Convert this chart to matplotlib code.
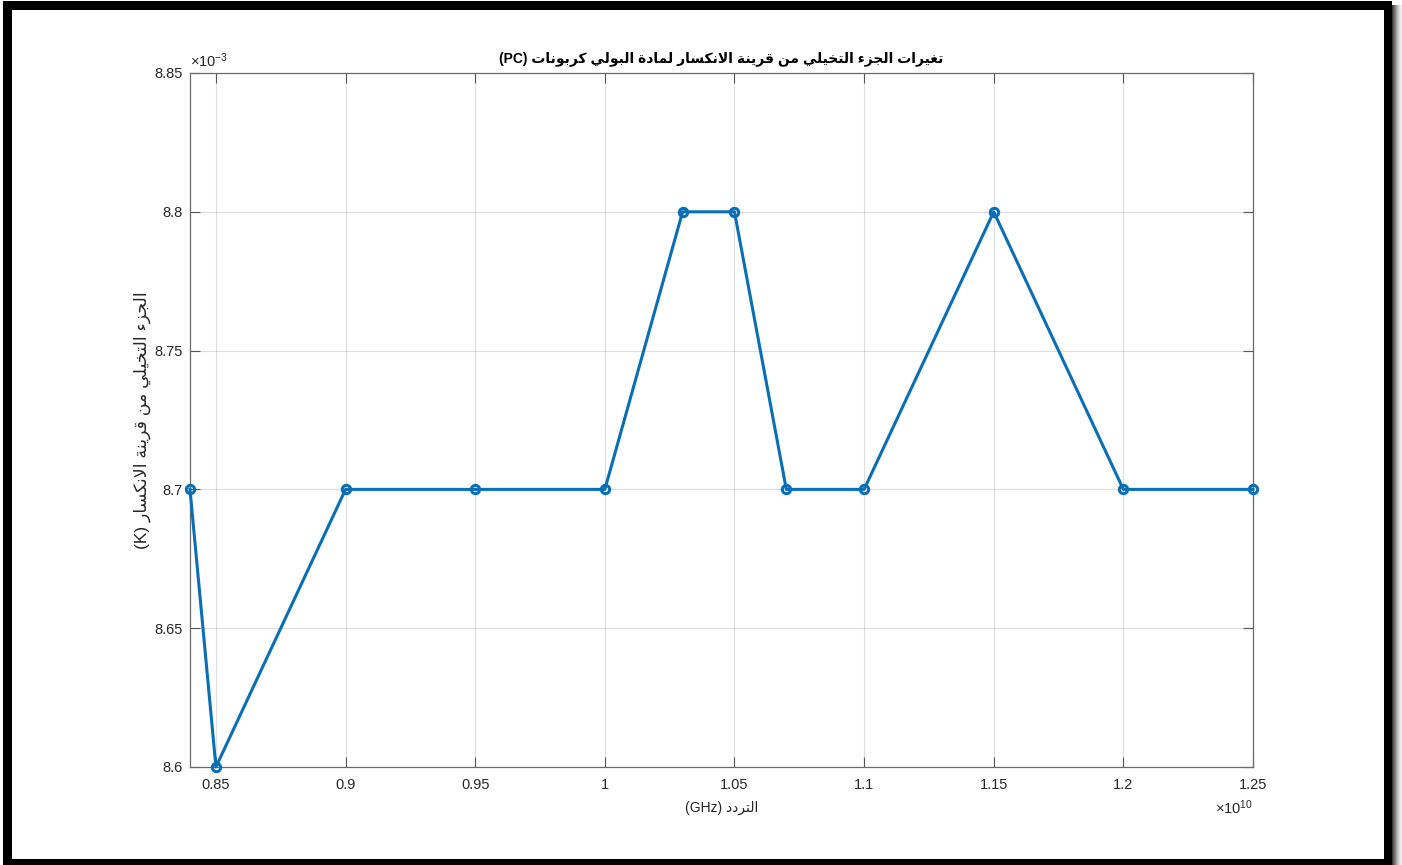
import unicodedata
import matplotlib
matplotlib.use("Agg")
import matplotlib.pyplot as plt
from matplotlib.patches import Rectangle

# ---- data (frequency in units of 1e10 Hz, K in units of 1e-3) ----
freq = [0.84, 0.85, 0.90, 0.95, 1.00, 1.03, 1.05, 1.07, 1.10, 1.15, 1.20, 1.25]
k_imag = [8.7, 8.6, 8.7, 8.7, 8.7, 8.8, 8.8, 8.7, 8.7, 8.8, 8.7, 8.7]
x_ticks = [0.85, 0.90, 0.95, 1.00, 1.05, 1.10, 1.15, 1.20, 1.25]
x_tick_labels = ["0.85", "0.9", "0.95", "1", "1.05", "1.1", "1.15", "1.2", "1.25"]
y_ticks = [8.60, 8.65, 8.70, 8.75, 8.80, 8.85]
y_tick_labels = ["8.6", "8.65", "8.7", "8.75", "8.8", "8.85"]

title_text = "تغيرات الجزء التخيلي من قرينة الانكسار لمادة البولي كربونات (PC)"
xlabel_text = "التردد (GHz)"
ylabel_text = "الجزء التخيلي من قرينة الانكسار (K)"

# ---- minimal Arabic shaping + right-to-left ordering ----
RIGHT_JOIN = set("اأإآدذرزوؤةى")
NON_JOIN = set("ء")


def is_arabic(ch):
    return "\u0600" <= ch <= "\u06FF"


def form_of(ch, form):
    try:
        return unicodedata.lookup(unicodedata.name(ch) + " " + form)
    except (KeyError, ValueError):
        return ch


def shape_word(word):
    toks = []
    i = 0
    while i < len(word):
        if word[i] == "ل" and i + 1 < len(word) and word[i + 1] == "ا":
            toks.append("LA")
            i += 2
        else:
            toks.append(word[i])
            i += 1

    def joins_forward(t):
        return t != "LA" and t not in RIGHT_JOIN and t not in NON_JOIN and is_arabic(t)

    def joins_back(t):
        return t == "LA" or (t not in NON_JOIN and is_arabic(t))

    out = []
    for n, t in enumerate(toks):
        prev_ok = n > 0 and joins_forward(toks[n - 1]) and joins_back(t)
        next_ok = n + 1 < len(toks) and joins_forward(t) and joins_back(toks[n + 1])
        if t == "LA":
            out.append("\uFEFC" if prev_ok else "\uFEFB")
            continue
        if not is_arabic(t):
            out.append(t)
            continue
        if prev_ok and next_ok:
            out.append(form_of(t, "MEDIAL FORM"))
        elif prev_ok:
            out.append(form_of(t, "FINAL FORM"))
        elif next_ok:
            out.append(form_of(t, "INITIAL FORM"))
        else:
            out.append(form_of(t, "ISOLATED FORM"))
    return "".join(reversed(out))


def rtl(text):
    words = text.split(" ")
    vis = []
    for w in reversed(words):
        vis.append(shape_word(w) if any(is_arabic(c) for c in w) else w)
    return " ".join(vis)


# ---- figure ----
W, H = 1402, 865
plt.rcParams["font.family"] = ["Liberation Sans", "DejaVu Sans"]
plt.rcParams["mathtext.default"] = "regular"

fig = plt.figure(figsize=(W / 100, H / 100), dpi=100)
fig.patch.set_facecolor("white")

L, R, T, B = 190, 1253, 73, 767
ax = fig.add_axes([L / W, 1 - B / H, (R - L) / W, (B - T) / H])

line_color = "#0A6EB4"
ax.plot(freq, k_imag, color=line_color, lw=2.2, marker="o", markersize=6,
        markerfacecolor="none", markeredgewidth=2.2, markeredgecolor=line_color,
        clip_on=False, zorder=3)

ax.set_xlim(0.84, 1.25)
ax.set_ylim(8.6, 8.85)
ax.set_xticks(x_ticks)
ax.set_xticklabels(x_tick_labels)
ax.set_yticks(y_ticks)
ax.set_yticklabels(y_tick_labels)

ax.grid(True, color="#262626", alpha=0.15, lw=0.8)
ax.set_axisbelow(True)
for s in ax.spines.values():
    s.set_color("#6a6a6a")
    s.set_linewidth(0.9)
ax.tick_params(axis="both", direction="in", length=7, width=0.8, color="#555555",
               labelcolor="#262626", labelsize=10.5, top=True, right=True)
ax.tick_params(axis="x", pad=8)
ax.tick_params(axis="y", pad=5)

# axis titles
ax.set_title(rtl(title_text), fontsize=10, fontweight="bold", color="black", pad=8)
ax.set_xlabel(rtl(xlabel_text), fontsize=10, color="#262626", labelpad=6)
ax.set_ylabel(rtl(ylabel_text), fontsize=12.5, color="#262626", labelpad=3)

# exponent multipliers
ax.text(0.0, 1.004, r"$\times10^{-3}$", transform=ax.transAxes, ha="left", va="bottom",
        fontsize=10.5, color="#262626")
ax.text(1.0, -0.045, r"$\times10^{10}$", transform=ax.transAxes, ha="right", va="top",
        fontsize=10.5, color="#262626")


# ---- black border frame with a soft shadow on the right ----
def px_rect(x0, y0, x1, y1, color, z=10):
    fig.add_artist(Rectangle((x0 / W, 1 - y1 / H), (x1 - x0) / W, (y1 - y0) / H,
                             transform=fig.transFigure, facecolor=color,
                             edgecolor="none", zorder=z))


px_rect(3, 1, 1392, 10, "black")      # top
px_rect(3, 1, 12, 865, "black")       # left
px_rect(1384, 1, 1392, 865, "black")  # right
px_rect(3, 859, 1392, 865, "black")   # bottom
shades = ["#3a3a3a", "#555555", "#6e6e6e", "#888888", "#a0a0a0",
          "#b8b8b8", "#cccccc", "#dddddd", "#ebebeb", "#f5f5f5"]
for n, c in enumerate(shades):
    px_rect(1392 + n, 5, 1393 + n, 865, c)

fig.savefig("out.png", dpi=100, facecolor="white")
